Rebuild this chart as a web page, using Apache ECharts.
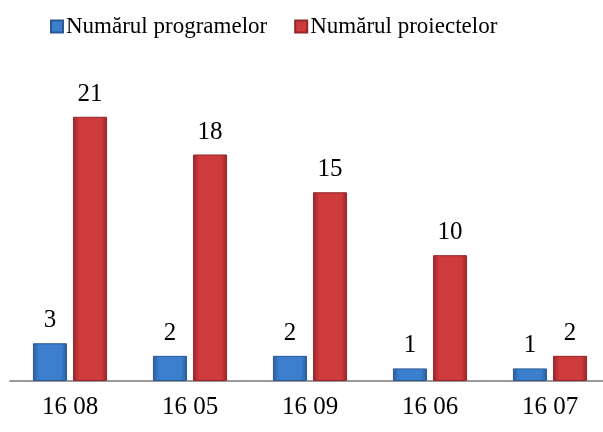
<!DOCTYPE html>
<html>
<head>
    <meta charset="utf-8">
    <title>ECharts</title>
    <script src="https://cdn.jsdelivr.net/npm/echarts@6/dist/echarts.min.js"></script>
    <style type="text/css">
    html, body { margin: 0; padding: 0; background: #fff; }
    </style>
</head>
<body>
    <div id="main" style="width: 603px;height:432px;"></div>
    <script type="text/javascript">
        // categories (x axis)
        var categories = ['16 08', '16 05', '16 09', '16 06', '16 07'];
        // series names
        var seriesNames = ['Numărul programelor', 'Numărul proiectelor'];
        // values
        var programe = [3, 2, 2, 1, 1];
        var proiecte = [21, 18, 15, 10, 2];

        var serif = '"Liberation Serif", "DejaVu Serif", serif';

        function bevel(edge, mid) {
            return new echarts.graphic.LinearGradient(0, 0, 1, 0, [
                {offset: 0, color: edge},
                {offset: 0.18, color: mid},
                {offset: 0.82, color: mid},
                {offset: 1, color: edge}
            ]);
        }

        var myChart = echarts.init(document.getElementById('main'));
        var option = {
            animation: false,
            legend: {
                data: seriesNames,
                left: 45,
                top: 10,
                itemWidth: 12,
                itemHeight: 12,
                itemGap: 27,
                icon: 'rect',
                textStyle: {fontFamily: serif, fontSize: 23, color: '#000', padding: [0, 0, 0, -2]}
            },
            grid: {left: 10, width: 600, top: 79, bottom: 51, outerBoundsMode: 'none'},
            xAxis: {
                type: 'category',
                data: categories,
                axisTick: {show: false},
                axisLine: {lineStyle: {color: '#9a9a9a', width: 2}},
                axisLabel: {fontFamily: serif, fontSize: 25, color: '#000', margin: 14}
            },
            yAxis: {
                type: 'value',
                min: 0,
                max: 24,
                show: false
            },
            series: [{
                name: seriesNames[0],
                type: 'bar',
                data: programe,
                barWidth: 34,
                barGap: '18%',
                itemStyle: {color: bevel('#2b5d9c', '#3c7fcf'), borderColor: '#2a5a94', borderWidth: 1},
                label: {show: true, position: 'top', distance: 10, fontFamily: serif, fontSize: 25, color: '#000'}
            }, {
                name: seriesNames[1],
                type: 'bar',
                data: proiecte,
                barWidth: 34,
                itemStyle: {color: bevel('#9c2326', '#cf3a3c'), borderColor: '#92262a', borderWidth: 1},
                label: {show: true, position: 'top', distance: 10, fontFamily: serif, fontSize: 25, color: '#000'}
            }],
            color: ['#3c7fcf', '#cf3a3c']
        };
        myChart.setOption(option);
    </script>
</body>
</html>
